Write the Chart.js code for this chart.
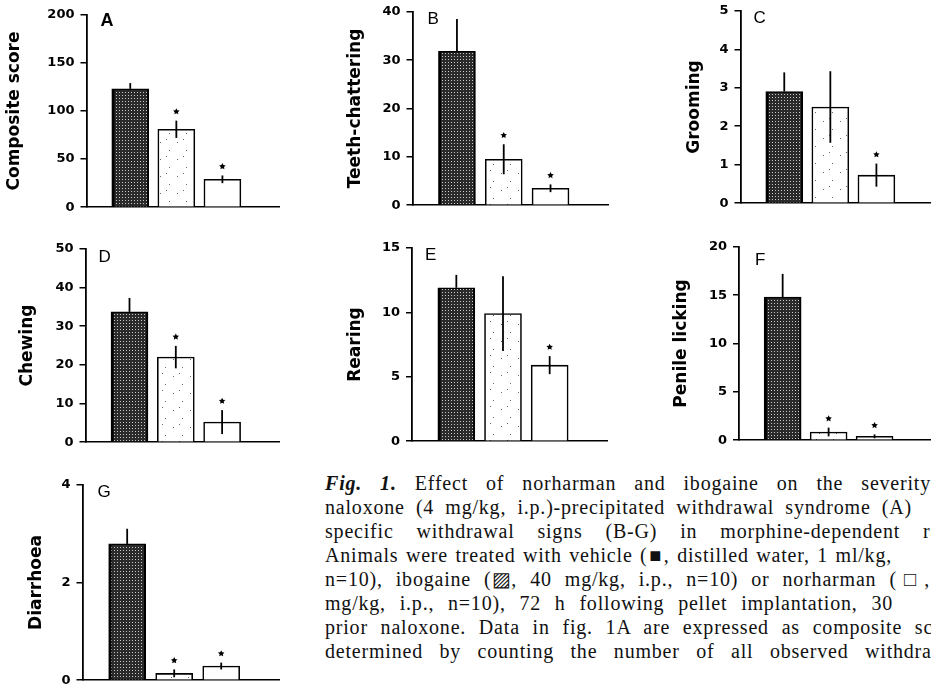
<!DOCTYPE html>
<html>
<head>
<meta charset="utf-8">
<script src="https://cdn.jsdelivr.net/npm/chart.js@4.4.0/dist/chart.umd.min.js"></script>
<style>
  body { margin: 0; width: 931px; height: 691px; overflow: hidden; background: #fff; position: relative; }
  canvas { position: absolute; }
  .cap {
    position: absolute; left: 325px; height: 24px; line-height: 24px;
    font-family: "Liberation Serif", serif; font-size: 20px; letter-spacing: 0.8px;
    white-space: nowrap; text-align: justify; text-align-last: justify; color: #111;
  }
</style>
</head>
<body>

<div class="cap" style="top:471px; width:606px"><b><i>Fig. 1.</i></b> Effect of norharman and ibogaine on the severity</div>
<div class="cap" style="top:495px; width:587px">naloxone (4 mg/kg, i.p.)-precipitated withdrawal syndrome (A)</div>
<div class="cap" style="top:519px; width:636px">specific withdrawal signs (B-G) in morphine-dependent rats.</div>
<div class="cap" style="top:543px; width:567px">Animals were treated with vehicle (■, distilled water, 1 ml/kg,</div>
<div class="cap" style="top:567px; width:605px">n=10), ibogaine (▨, 40 mg/kg, i.p., n=10) or norharman (□,</div>
<div class="cap" style="top:591px; width:568px">mg/kg, i.p., n=10), 72 h following pellet implantation, 30</div>
<div class="cap" style="top:615px; width:636px">prior naloxone. Data in fig. 1A are expressed as composite score</div>
<div class="cap" style="top:639px; width:638px">determined by counting the number of all observed withdrawal</div>

<script>
// treatment groups, same order in every panel
const groups = ["Vehicle", "Ibogaine", "Norharman"];

// A
const compositeScore = [123, 81, 29];
const compositeScoreErr = [6, 9, 4];
const compositeScoreSig = [false, true, true];
const compositeScoreTicks = [0, 50, 100, 150, 200];

// B
const teethChattering = [31.8, 9.5, 3.5];
const teethChatteringErr = [6.7, 3.1, 0.8];
const teethChatteringSig = [false, true, true];
const teethChatteringTicks = [0, 10, 20, 30, 40];

// C
const grooming = [2.9, 2.5, 0.73];
const groomingErr = [0.5, 0.93, 0.3];
const groomingSig = [false, false, true];
const groomingTicks = [0, 1, 2, 3, 4, 5];

// D
const chewing = [33.7, 22.0, 5.2];
const chewingErr = [3.6, 2.9, 3.1];
const chewingSig = [false, true, true];
const chewingTicks = [0, 10, 20, 30, 40, 50];

// E
const rearing = [11.9, 9.9, 5.9];
const rearingErr = [1.0, 2.9, 0.7];
const rearingSig = [false, false, true];
const rearingTicks = [0, 5, 10, 15];

// F
const penileLicking = [14.8, 0.85, 0.4];
const penileLickingErr = [2.4, 0.45, 0.2];
const penileLickingSig = [false, true, true];
const penileLickingTicks = [0, 5, 10, 15, 20];

// G
const diarrhoea = [2.79, 0.14, 0.29];
const diarrhoeaErr = [0.31, 0.08, 0.07];
const diarrhoeaSig = [false, true, true];
const diarrhoeaTicks = [0, 2, 4];

// fills: dark halftone for vehicle, sparse stipple for ibogaine, plain for norharman
function dotPattern(size, bg, dot, dots) {
  const c = document.createElement("canvas");
  c.width = c.height = size;
  const g = c.getContext("2d");
  g.fillStyle = bg;
  g.fillRect(0, 0, size, size);
  g.fillStyle = dot;
  dots.forEach(([x, y]) => g.fillRect(x, y, 1, 1));
  return g.createPattern(c, "repeat");
}
const darkFill = dotPattern(3, "#2a2a2a", "#c8c8c8", [[1, 1]]);
const lightFill = dotPattern(17, "#ffffff", "#666666", [[3, 5], [12, 13], [9, 2]]);
const barFills = [darkFill, lightFill, "#ffffff"];
const barBorders = [{ left: 3, right: 2, top: 1.5, bottom: 0 }, 1.6, 1.6];

const panels = [
  { letter: "A", bold: true, title: "Composite score", values: compositeScore, errors: compositeScoreErr, sig: compositeScoreSig, ticks: compositeScoreTicks,
    box: { left: 86, top: 15, bottom: 207, right: 279 }, axisW: 82.5, letterAt: [14, 11] },
  { letter: "B", title: "Teeth-chattering", values: teethChattering, errors: teethChatteringErr, sig: teethChatteringSig, ticks: teethChatteringTicks,
    box: { left: 412, top: 12, bottom: 205, right: 608 }, axisW: 67.5, letterAt: [15, 12] },
  { letter: "C", title: "Grooming", values: grooming, errors: groomingErr, sig: groomingSig, ticks: groomingTicks,
    box: { left: 740, top: 11, bottom: 203, right: 933 }, axisW: 56.5, letterAt: [13, 12] },
  { letter: "D", title: "Chewing", values: chewing, errors: chewingErr, sig: chewingSig, ticks: chewingTicks,
    box: { left: 85, top: 249, bottom: 442, right: 279 }, axisW: 68.5, letterAt: [13, 13.5] },
  { letter: "E", title: "Rearing", values: rearing, errors: rearingErr, sig: rearingSig, ticks: rearingTicks,
    box: { left: 412, top: 248, bottom: 441, right: 608 }, axisW: 67, letterAt: [13, 12.5] },
  { letter: "F", title: "Penile licking", values: penileLicking, errors: penileLickingErr, sig: penileLickingSig, ticks: penileLickingTicks,
    box: { left: 739, top: 247, bottom: 440, right: 932 }, axisW: 68, letterAt: [16, 18] },
  { letter: "G", title: "Diarrhoea", values: diarrhoea, errors: diarrhoeaErr, sig: diarrhoeaSig, ticks: diarrhoeaTicks,
    box: { left: 82, top: 485, bottom: 680, right: 279 }, axisW: 56.5, letterAt: [15, 12] },
];

function drawStar(ctx, x, y, r) {
  ctx.beginPath();
  for (let k = 0; k < 10; k++) {
    const rr = k % 2 ? r * 0.5 : r;
    const a = -Math.PI / 2 + k * Math.PI / 5;
    ctx.lineTo(x + rr * Math.cos(a), y + rr * Math.sin(a));
  }
  ctx.closePath();
  ctx.fill();
}

// error bars, significance stars and the panel letter
function overlay(p) {
  return {
    id: "overlay" + p.letter,
    afterDatasetsDraw(chart) {
      const { ctx, chartArea } = chart;
      const y = chart.scales.y;
      const bars = chart.getDatasetMeta(0).data;
      ctx.save();
      ctx.strokeStyle = "#000";
      ctx.fillStyle = "#000";
      ctx.lineWidth = 1.8;
      bars.forEach((bar, i) => {
        const v = p.values[i], e = p.errors[i];
        const yTop = y.getPixelForValue(v + e);
        // the lower half is lost in the dark vehicle fill
        const yBot = i === 0 ? bar.y : y.getPixelForValue(Math.max(v - e, 0));
        ctx.beginPath();
        ctx.moveTo(bar.x, yTop);
        ctx.lineTo(bar.x, yBot);
        ctx.stroke();
        if (p.sig[i]) drawStar(ctx, bar.x, yTop - 9, 3.4);
      });
      ctx.font = (p.bold ? "bold 18px" : "17px") + " 'Liberation Sans', Arial, sans-serif";
      ctx.textBaseline = "alphabetic";
      ctx.fillText(p.letter, chartArea.left + p.letterAt[0], chartArea.top + p.letterAt[1]);
      ctx.restore();
    }
  };
}

function config(p) {
  const t = p.ticks;
  return {
    type: "bar",
    data: {
      datasets: [{
        label: p.title,
        data: p.values.map((v, i) => ({ x: i + 1, y: v })),
        backgroundColor: barFills,
        borderColor: "#000",
        borderWidth: barBorders,
        borderSkipped: "bottom",
        barThickness: 37,
      }],
    },
    options: {
      responsive: false,
      maintainAspectRatio: false,
      animation: false,
      events: [],
      layout: { padding: 0 },
      plugins: { legend: { display: false }, tooltip: { enabled: false } },
      scales: {
        x: {
          type: "linear",
          min: 0.05,
          max: 4.25,
          offset: false,
          ticks: { display: false },
          grid: { display: false },
          border: { display: true, color: "#000", width: 1.6 },
          afterFit: (s) => { s.height = 0; },
        },
        y: {
          min: t[0],
          max: t[t.length - 1],
          ticks: {
            stepSize: t[1] - t[0],
            color: "#000",
            padding: 6,
            font: { family: "DejaVu Sans", weight: "bold", size: 13 },
          },
          grid: { drawOnChartArea: false, drawTicks: true, tickLength: 6, color: "#000", lineWidth: 1.5 },
          border: { display: true, color: "#000", width: 1.8 },
          title: {
            display: true,
            text: p.title,
            color: "#000",
            padding: 0,
            font: { family: "DejaVu Sans", weight: "bold", size: 17 },
          },
          afterFit: (s) => { s.width = p.axisW; },
        },
      },
    },
    plugins: [overlay(p)],
  };
}

function drawPanel(p) {
  const canvas = document.createElement("canvas");
  document.body.appendChild(canvas);
  // first pass to learn the margins around the plot area
  canvas.width = 400;
  canvas.height = 300;
  let chart = new Chart(canvas, config(p));
  const a = chart.chartArea;
  const topM = a.top, botM = 300 - a.bottom, leftM = a.left;
  chart.destroy();

  canvas.width = Math.round(leftM + (p.box.right - p.box.left));
  canvas.height = Math.round(topM + (p.box.bottom - p.box.top) + botM);
  canvas.style.width = canvas.width + "px";
  canvas.style.height = canvas.height + "px";
  chart = new Chart(canvas, config(p));
  const b = chart.chartArea;
  canvas.style.left = (p.box.left - b.left) + "px";
  canvas.style.top = (p.box.top - b.top) + "px";
}

panels.forEach(drawPanel);
</script>
</body>
</html>
